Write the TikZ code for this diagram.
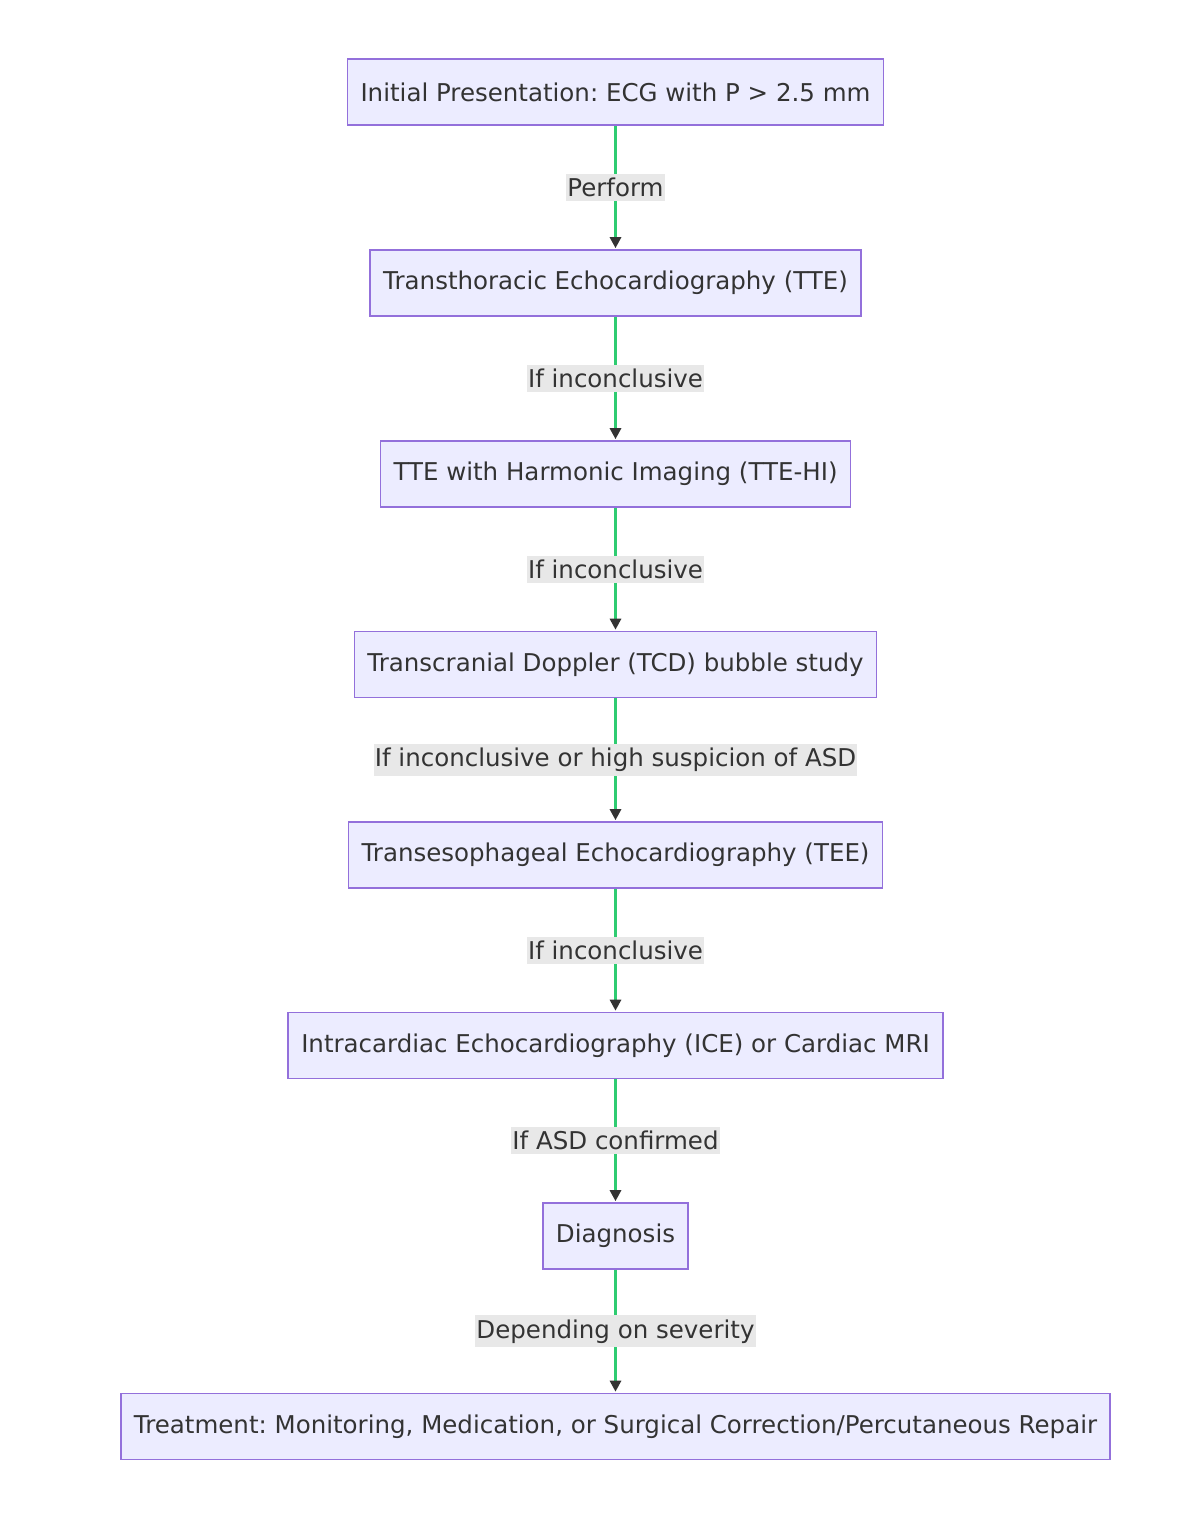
\documentclass[tikz,border=0pt]{standalone}
\usepackage{fontspec}
\setmainfont{DejaVu Sans}
\frenchspacing
\usetikzlibrary{arrows.meta}
\definecolor{nodefill}{HTML}{ECECFF}
\definecolor{nodeline}{HTML}{9370DB}
\definecolor{edgegreen}{HTML}{2ECC71}
\definecolor{labelfill}{HTML}{E8E8E8}
\definecolor{txt}{HTML}{333333}
\tikzset{
  box/.style={draw=nodeline, fill=nodefill, line width=1.6pt, minimum height=66pt, inner xsep=13pt, text=txt, font=\fontsize{24.5}{29}\selectfont},
  flow/.style={draw=edgegreen, line width=3pt, -{Triangle[length=11pt,width=11pt,color=txt]}, shorten >=1pt},
  lbl/.style={fill=labelfill, text=txt, inner xsep=1pt, inner ysep=4pt, font=\fontsize{24.5}{29}\selectfont}
}
\begin{document}
\begin{tikzpicture}[x=1pt,y=-1pt]
\useasboundingbox (0,0) rectangle (1190,1532);
\node[box] (n1) at (615.5,92) {Initial Presentation: ECG with P > 2.5 mm};
\node[box] (n2) at (615.5,283) {Transthoracic Echocardiography (TTE)};
\node[box] (n3) at (615.5,474) {TTE with Harmonic Imaging (TTE-HI)};
\node[box] (n4) at (615.5,664.5) {Transcranial Doppler (TCD) bubble study};
\node[box] (n5) at (615.5,855) {Transesophageal Echocardiography (TEE)};
\node[box] (n6) at (615.5,1045.5) {Intracardiac Echocardiography (ICE) or Cardiac MRI};
\node[box] (n7) at (615.5,1236) {Diagnosis};
\node[box] (n8) at (615.5,1426.5) {Treatment: Monitoring, Medication, or Surgical Correction/Percutaneous Repair};
\draw[flow] (n1) -- node[lbl] (l1) {Perform} (n2);
\draw[flow] (n2) -- node[lbl] (l2) {If inconclusive} (n3);
\draw[flow] (n3) -- node[lbl] (l3) {If inconclusive} (n4);
\draw[flow] (n4) -- node[lbl] (l4) {If inconclusive or high suspicion of ASD} (n5);
\draw[flow] (n5) -- node[lbl] (l5) {If inconclusive} (n6);
\draw[flow] (n6) -- node[lbl] (l6) {If ASD confirmed} (n7);
\draw[flow] (n7) -- node[lbl] (l7) {Depending on severity} (n8);
\end{tikzpicture}
\end{document}
